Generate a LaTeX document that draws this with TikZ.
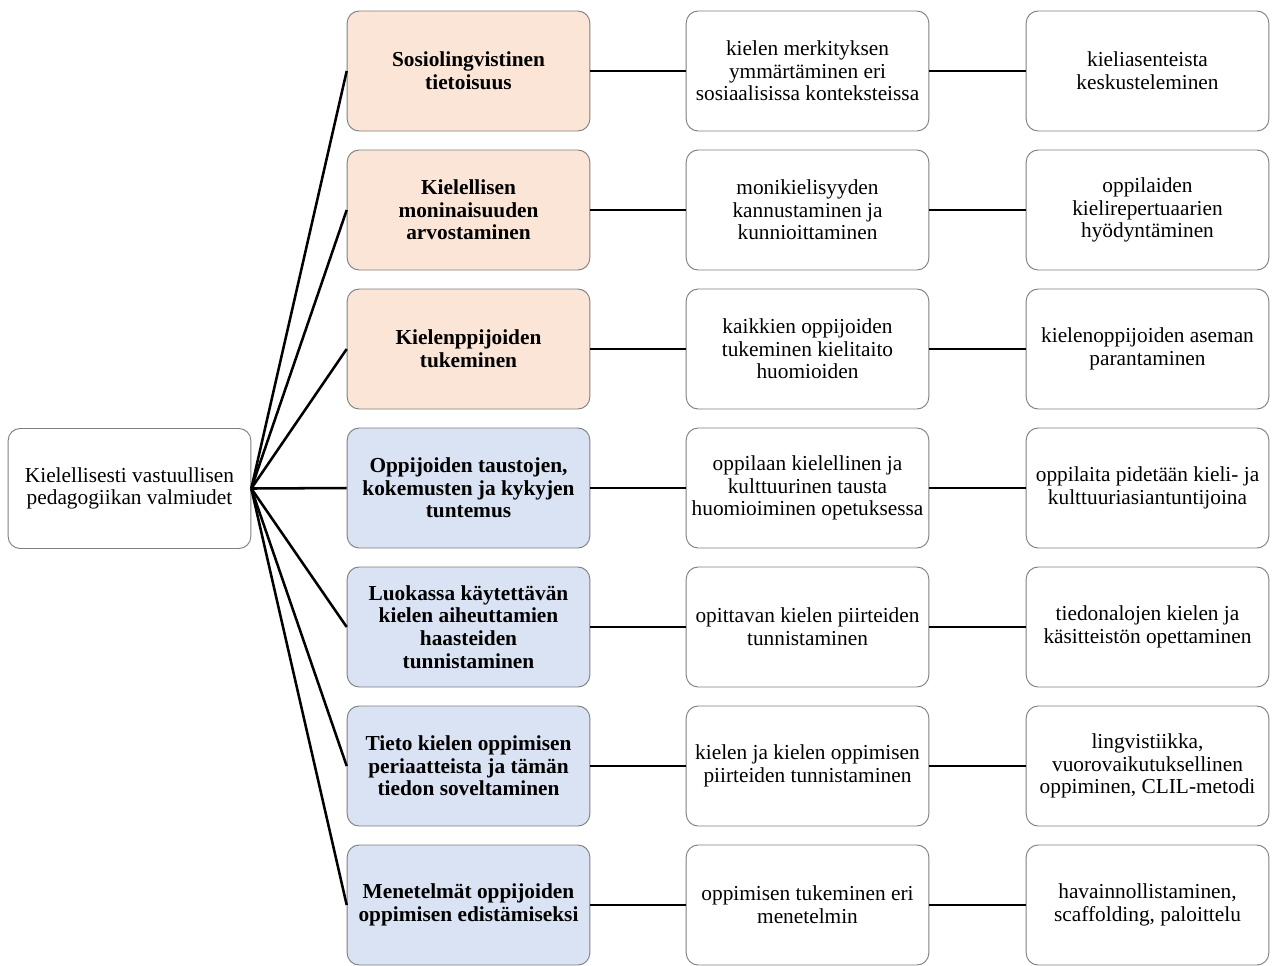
\documentclass[tikz,border=0pt]{standalone}
\usepackage{fontspec}
\setmainfont{Liberation Serif}
\definecolor{peach}{HTML}{FBE5D6}
\definecolor{paleblue}{HTML}{DAE3F3}
\definecolor{rim}{HTML}{7F7F7F}
\tikzset{
  box/.style={draw=rim, line width=0.7pt, rounded corners=9pt, fill=white,
    minimum width=182pt, minimum height=90pt, align=center,
    font=\fontsize{16}{17}\selectfont},
  headbox/.style={box, font=\fontsize{16}{17}\selectfont\bfseries},
  link/.style={line width=1.9pt}
}
\begin{document}
\begin{tikzpicture}[x=0.75pt, y=-0.75pt]
      \useasboundingbox (0,0) rectangle (1273,965);
      %% root
      \node [box] (root) at (129.5, 488.5) {Kielellisesti vastuullisen\\pedagogiikan valmiudet};
      %% second column
      \node [headbox, fill=peach] (s1) at (468.5, 71) {Sosiolingvistinen\\tietoisuus};
      \node [headbox, fill=peach] (s2) at (468.5, 210) {Kielellisen\\moninaisuuden\\arvostaminen};
      \node [headbox, fill=peach] (s3) at (468.5, 349) {Kielenppijoiden\\tukeminen};
      \node [headbox, fill=paleblue] (s4) at (468.5, 488) {Oppijoiden taustojen,\\kokemusten ja kykyjen\\tuntemus};
      \node [headbox, fill=paleblue] (s5) at (468.5, 627) {Luokassa käytettävän\\kielen aiheuttamien\\haasteiden\\tunnistaminen};
      \node [headbox, fill=paleblue] (s6) at (468.5, 766) {Tieto kielen oppimisen\\periaatteista ja tämän\\tiedon soveltaminen};
      \node [headbox, fill=paleblue] (s7) at (468.5, 905) {Menetelmät oppijoiden\\oppimisen edistämiseksi};
      %% third column
      \node [box] (t1) at (807.5, 71) {kielen merkityksen\\ymmärtäminen eri\\sosiaalisissa konteksteissa};
      \node [box] (t2) at (807.5, 210) {monikielisyyden\\kannustaminen ja\\kunnioittaminen};
      \node [box] (t3) at (807.5, 349) {kaikkien oppijoiden\\tukeminen kielitaito\\huomioiden};
      \node [box] (t4) at (807.5, 488) {oppilaan kielellinen ja\\kulttuurinen tausta\\huomioiminen opetuksessa};
      \node [box] (t5) at (807.5, 627) {opittavan kielen piirteiden\\tunnistaminen};
      \node [box] (t6) at (807.5, 766) {kielen ja kielen oppimisen\\piirteiden tunnistaminen};
      \node [box] (t7) at (807.5, 905) {oppimisen tukeminen eri\\menetelmin};
      %% fourth column
      \node [box] (f1) at (1147.5, 71) {kieliasenteista\\keskusteleminen};
      \node [box] (f2) at (1147.5, 210) {oppilaiden\\kielirepertuaarien\\hyödyntäminen};
      \node [box] (f3) at (1147.5, 349) {kielenoppijoiden aseman\\parantaminen};
      \node [box] (f4) at (1147.5, 488) {oppilaita pidetään kieli- ja\\kulttuuriasiantuntijoina};
      \node [box] (f5) at (1147.5, 627) {tiedonalojen kielen ja\\käsitteistön opettaminen};
      \node [box] (f6) at (1147.5, 766) {lingvistiikka,\\vuorovaikutuksellinen\\oppiminen, CLIL-metodi};
      \node [box] (f7) at (1147.5, 905) {havainnollistaminen,\\scaffolding, paloittelu};
      %% connectors
      \foreach \i in {1,...,7} {
        \draw [link] (root.east) -- (s\i.west);
        \draw [link] (s\i) -- (t\i);
        \draw [link] (t\i) -- (f\i);
      }
    \end{tikzpicture}
\end{document}
